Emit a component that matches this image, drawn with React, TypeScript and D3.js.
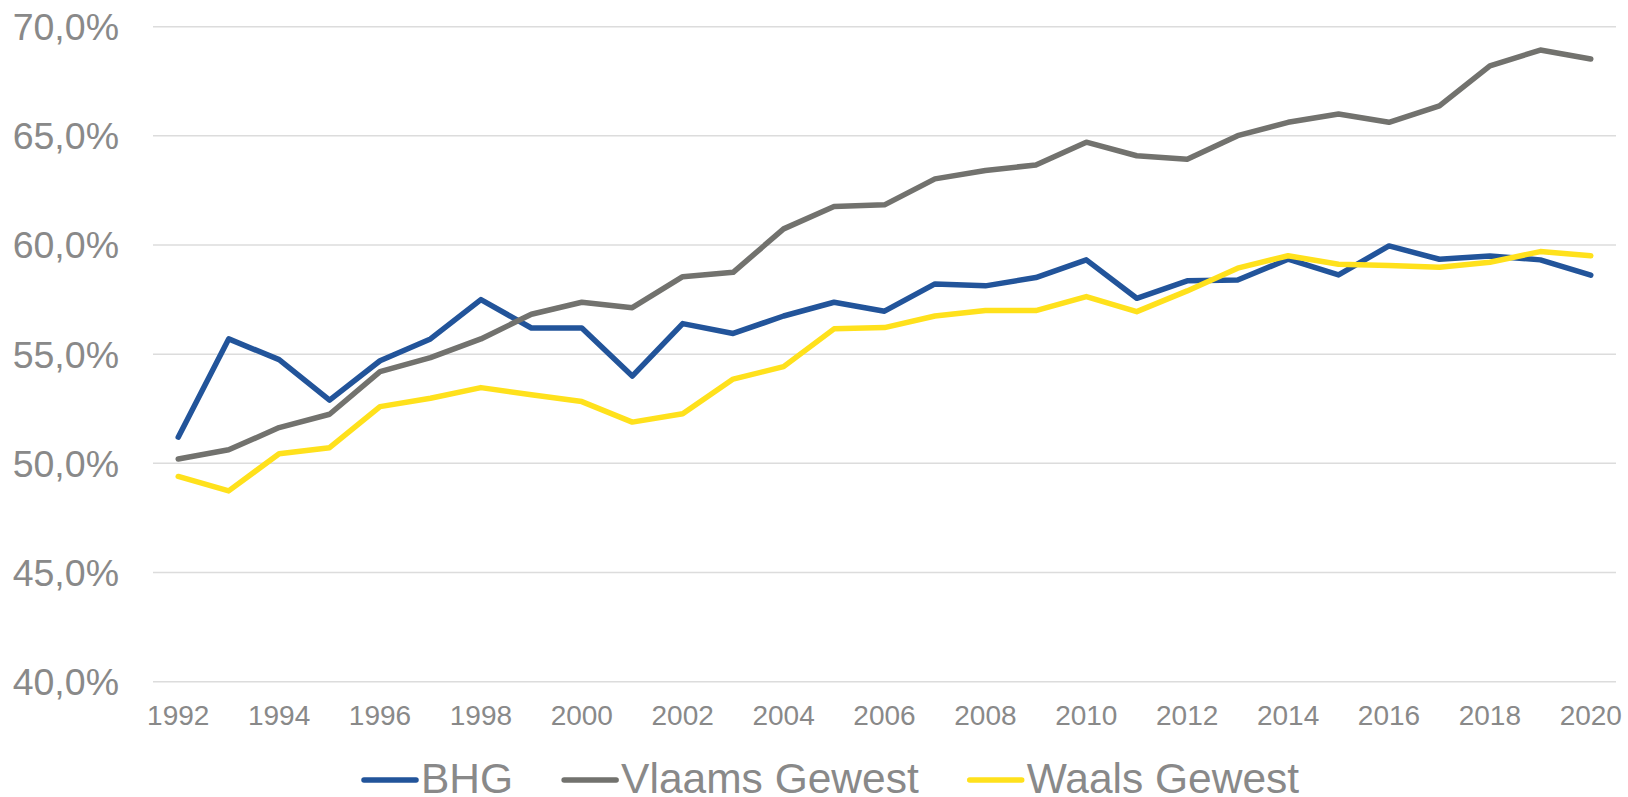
import React, { useEffect, useRef } from "react";
import * as d3 from "d3";

const years = [
  1992, 1993, 1994, 1995, 1996, 1997, 1998, 1999, 2000, 2001, 2002, 2003, 2004, 2005, 2006,
  2007, 2008, 2009, 2010, 2011, 2012, 2013, 2014, 2015, 2016, 2017, 2018, 2019, 2020,
];

const bhg = [
  51.2, 55.7, 54.75, 52.9, 54.7, 55.7, 57.5, 56.2, 56.2, 54.0, 56.4, 55.95, 56.75, 57.38, 56.97,
  58.22, 58.13, 58.51, 59.32, 57.56, 58.36, 58.4, 59.35, 58.63, 59.96, 59.35, 59.5, 59.32, 58.62,
];

const vlaams = [
  50.2, 50.62, 51.64, 52.25, 54.2, 54.84, 55.7, 56.83, 57.38, 57.13, 58.55, 58.75, 60.74, 61.76, 61.84,
  63.03, 63.41, 63.67, 64.71, 64.09, 63.93, 65.01, 65.62, 66.0, 65.62, 66.37, 68.21, 68.93, 68.52,
];

const waals = [
  49.4, 48.74, 50.44, 50.72, 52.6, 52.98, 53.47, 53.14, 52.83, 51.89, 52.27, 53.86, 54.43, 56.16, 56.22,
  56.75, 57.0, 57.0, 57.64, 56.95, 57.9, 58.94, 59.51, 59.12, 59.06, 58.98, 59.21, 59.7, 59.51,
];

const yTicks = [40, 45, 50, 55, 60, 65, 70];
const xTickYears = years.filter((y) => y % 2 === 0);

const seriesNames = ["BHG", "Vlaams Gewest", "Waals Gewest"];
const seriesValues = [bhg, vlaams, waals];
const seriesColors = ["#22549A", "#72726E", "#FFE11C"];

const W = 1628;
const H = 797;

export default function App() {
  const ref = useRef<SVGSVGElement>(null);

  useEffect(() => {
    const svg = d3.select(ref.current);
    svg.selectAll("*").remove();

    const left = 153,
      right = 1616,
      top = 26.7,
      bottom = 681.7;

    const x = d3
      .scalePoint<number>()
      .domain(years)
      .range([left, right])
      .padding(0.5);
    const y = d3.scaleLinear().domain([40, 70]).range([bottom, top]);

    const font = "'Liberation Sans', Arial, sans-serif";
    const textColor = "#898989";

    // gridlines
    svg
      .append("g")
      .selectAll("line")
      .data(yTicks)
      .join("line")
      .attr("x1", left)
      .attr("x2", right)
      .attr("y1", (d) => y(d))
      .attr("y2", (d) => y(d))
      .attr("stroke", "#DCDCDC")
      .attr("stroke-width", 1.5);

    // y labels
    svg
      .append("g")
      .selectAll("text")
      .data(yTicks)
      .join("text")
      .attr("x", 119)
      .attr("y", (d) => y(d) + 13.3)
      .attr("text-anchor", "end")
      .attr("font-family", font)
      .attr("font-size", 37.5)
      .attr("fill", textColor)
      .text((d) => d.toFixed(1).replace(".", ",") + "%");

    // x labels
    svg
      .append("g")
      .selectAll("text")
      .data(xTickYears)
      .join("text")
      .attr("x", (d) => x(d)!)
      .attr("y", 725)
      .attr("text-anchor", "middle")
      .attr("font-family", font)
      .attr("font-size", 28)
      .attr("fill", textColor)
      .text((d) => String(d));

    // lines
    const line = d3
      .line<number>()
      .x((_, i) => x(years[i])!)
      .y((d) => y(d));

    svg
      .append("g")
      .selectAll("path")
      .data(seriesValues)
      .join("path")
      .attr("d", (d) => line(d))
      .attr("fill", "none")
      .attr("stroke", (_, i) => seriesColors[i])
      .attr("stroke-width", 5.5)
      .attr("stroke-linejoin", "round")
      .attr("stroke-linecap", "round");

    // legend
    const legend = svg.append("g");
    let lx = 362;
    const ly = 780;
    seriesNames.forEach((name, i) => {
      legend
        .append("line")
        .attr("x1", lx + 2)
        .attr("x2", lx + 54)
        .attr("y1", ly)
        .attr("y2", ly)
        .attr("stroke", seriesColors[i])
        .attr("stroke-width", 5.5)
        .attr("stroke-linecap", "round");
      const t = legend
        .append("text")
        .attr("x", lx + 59)
        .attr("y", 793)
        .attr("font-family", font)
        .attr("font-size", 42.5)
        .attr("fill", textColor)
        .text(name);
      const w = (t.node() as SVGTextElement).getComputedTextLength();
      lx = lx + 59 + w + 49;
    });
  }, []);

  return (
    <svg
      ref={ref}
      width={W}
      height={H}
      style={{ position: "absolute", left: 0, top: 0, background: "#fff" }}
    />
  );
}
